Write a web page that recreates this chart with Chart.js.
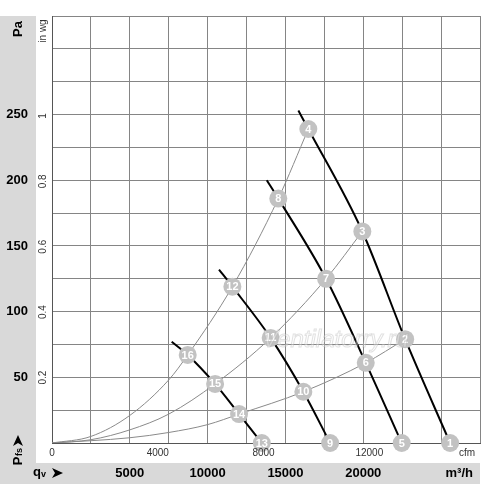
<!DOCTYPE html>
<html>
<head>
<meta charset="utf-8">
<script src="https://cdn.jsdelivr.net/npm/chart.js@4.4.1/dist/chart.umd.min.js"></script>
<style>
  html, body { margin: 0; padding: 0; background: #fff; }
  #wrap { width: 500px; height: 484px; position: relative; }
</style>
</head>
<body>
<div id="wrap"><canvas id="chart"></canvas></div>
<script>
// fan curves: flow in m³/h, static pressure in Pa
const fan1Flow = [15830, 16470, 19940, 22690, 25580];
const fan1Pa   = [253, 239, 161, 79, 0];
const fan2Flow = [13800, 14540, 17610, 20160, 22470];
const fan2Pa   = [200, 186, 125, 61, 0];
const fan3Flow = [10730, 11590, 14050, 16150, 17870];
const fan3Pa   = [132, 119, 80, 39, 0];
const fan4Flow = [7690, 8720, 10480, 12020, 13480];
const fan4Pa   = [77, 67, 45, 22, 0];

// system curves through the operating points
const sysAFlow = [0, 2500, 5000, 7500, 8720, 11590, 14540, 16470];
const sysAPa   = [0, 5, 21, 48, 67, 119, 186, 239];
const sysBFlow = [0, 2500, 5000, 7500, 10480, 14050, 17610, 19940];
const sysBPa   = [0, 2.5, 10, 22, 45, 80, 125, 161];
const sysCFlow = [0, 5000, 7500, 10000, 12020, 16150, 20160, 22690];
const sysCPa   = [0, 4, 8, 14, 22, 39, 61, 79];

// numbered operating points
const markerNames = ['1', '2', '3', '4', '5', '6', '7', '8', '9', '10', '11', '12', '13', '14', '15', '16'];
const markerFlow  = [25580, 22690, 19940, 16470, 22470, 20160, 17610, 14540, 17870, 16150, 14050, 11590, 13480, 12020, 10480, 8720];
const markerPa    = [0, 79, 161, 239, 0, 61, 125, 186, 0, 39, 80, 119, 0, 22, 45, 67];

// axis labels
const paTicks   = [50, 100, 150, 200, 250];
const inwgTicks = [0.2, 0.4, 0.6, 0.8, 1];
const m3hTicks  = [5000, 10000, 15000, 20000];
const cfmTicks  = [0, 4000, 8000, 12000];

const PA_PER_INWG = 249;
const M3H_PER_CFM = 1.699;

const pts = (xs, ys) => xs.map((x, i) => ({ x: x, y: ys[i] }));

const fanStyle = { borderColor: '#000', borderWidth: 2, pointRadius: 0, cubicInterpolationMode: 'monotone', order: 1 };
const sysStyle = { borderColor: '#8a8a8a', borderWidth: 1, pointRadius: 0, cubicInterpolationMode: 'monotone', order: 2 };

function arrowHead(ctx, x, y, dir) {
  // filled arrowhead with notched back, dir: 'right' or 'up'
  ctx.save();
  ctx.translate(x, y);
  if (dir === 'up') ctx.rotate(-Math.PI / 2);
  ctx.beginPath();
  ctx.moveTo(6, 0);
  ctx.lineTo(-5, -5);
  ctx.lineTo(-2, 0);
  ctx.lineTo(-5, 5);
  ctx.closePath();
  ctx.fill();
  ctx.restore();
}

const decor = {
  id: 'decor',
  beforeDraw(chart) {
    const ctx = chart.ctx, a = chart.chartArea;
    ctx.save();
    ctx.fillStyle = '#d9d9d9';
    ctx.fillRect(0, a.top, 36, 463 - a.top);
    ctx.fillRect(0, 463, a.right, 21);
    ctx.restore();
  },
  afterDatasetsDraw(chart) {
    const ctx = chart.ctx;
    const meta = chart.getDatasetMeta(0);
    ctx.save();
    ctx.fillStyle = '#fff';
    ctx.font = 'bold 11px "Liberation Sans", Arial, sans-serif';
    ctx.textAlign = 'center';
    ctx.textBaseline = 'middle';
    meta.data.forEach((p, i) => ctx.fillText(markerNames[i], p.x, p.y + 0.5));

    // faint watermark
    ctx.font = 'italic 24px "Liberation Sans", Arial, sans-serif';
    ctx.textAlign = 'left';
    ctx.lineWidth = 1;
    ctx.strokeStyle = 'rgba(170,170,170,0.35)';
    ctx.fillStyle = 'rgba(255,255,255,0.35)';
    ctx.fillText('Ventilatorry.ru', 262, 340);
    ctx.strokeText('Ventilatorry.ru', 262, 340);
    ctx.restore();
  },
  afterDraw(chart) {
    const ctx = chart.ctx;
    const xs = chart.scales.x, ys = chart.scales.y;
    ctx.save();
    ctx.fillStyle = '#000';

    // Pa labels in the left band
    ctx.font = 'bold 13px "Liberation Sans", Arial, sans-serif';
    ctx.textAlign = 'right';
    ctx.textBaseline = 'middle';
    paTicks.forEach(v => ctx.fillText(String(v), 28, ys.getPixelForValue(v)));

    // m³/h labels in the bottom band
    ctx.textAlign = 'center';
    m3hTicks.forEach(v => ctx.fillText(String(v), xs.getPixelForValue(v), 473));
    ctx.textAlign = 'right';
    ctx.fillText('m³/h', 473, 473);

    // qv arrow
    ctx.textAlign = 'left';
    ctx.fillText('q', 33, 472);
    ctx.font = 'bold 9px "Liberation Sans", Arial, sans-serif';
    ctx.fillText('v', 41, 475);
    arrowHead(ctx, 57, 473, 'right');

    // rotated labels
    const rot = (txt, x, y, font, align) => {
      ctx.save();
      ctx.translate(x, y);
      ctx.rotate(-Math.PI / 2);
      ctx.font = font;
      ctx.textAlign = align;
      ctx.textBaseline = 'middle';
      ctx.fillText(txt, 0, 0);
      ctx.restore();
    };
    rot('Pa', 18, 29, 'bold 13px "Liberation Sans", Arial, sans-serif', 'center');
    rot('P', 18, 461, 'bold 13px "Liberation Sans", Arial, sans-serif', 'center');
    rot('fs', 20, 452, 'bold 9px "Liberation Sans", Arial, sans-serif', 'center');
    arrowHead(ctx, 18, 441, 'up');

    ctx.fillStyle = '#333';
    rot('in wg', 43, 31, '10px "Liberation Sans", Arial, sans-serif', 'center');
    inwgTicks.forEach(v => rot(String(v), 43, ys.getPixelForValue(v * PA_PER_INWG), '10px "Liberation Sans", Arial, sans-serif', 'center'));

    // cfm labels under the plot
    ctx.font = '10px "Liberation Sans", Arial, sans-serif';
    ctx.textAlign = 'center';
    ctx.textBaseline = 'middle';
    cfmTicks.forEach(v => ctx.fillText(String(v), xs.getPixelForValue(v * M3H_PER_CFM), 453));
    ctx.fillText('cfm', 467, 453);
    ctx.restore();
  }
};

new Chart(document.getElementById('chart'), {
  type: 'line',
  data: {
    datasets: [
      { data: pts(markerFlow, markerPa), showLine: false, pointRadius: 9, pointHoverRadius: 9,
        pointBackgroundColor: '#c2c2c2', pointBorderWidth: 0, order: 0, clip: false },
      Object.assign({ data: pts(fan1Flow, fan1Pa) }, fanStyle),
      Object.assign({ data: pts(fan2Flow, fan2Pa) }, fanStyle),
      Object.assign({ data: pts(fan3Flow, fan3Pa) }, fanStyle),
      Object.assign({ data: pts(fan4Flow, fan4Pa) }, fanStyle),
      Object.assign({ data: pts(sysAFlow, sysAPa) }, sysStyle),
      Object.assign({ data: pts(sysBFlow, sysBPa) }, sysStyle),
      Object.assign({ data: pts(sysCFlow, sysCPa) }, sysStyle)
    ]
  },
  options: {
    responsive: true,
    maintainAspectRatio: false,
    animation: false,
    events: [],
    layout: { padding: { top: 16, right: 20, left: 0, bottom: 0 } },
    plugins: { legend: { display: false }, tooltip: { enabled: false } },
    scales: {
      x: {
        type: 'linear', min: 0, max: 27500,
        ticks: { display: false, stepSize: 2500 },
        grid: { color: '#858585', lineWidth: 1, drawTicks: false },
        border: { color: '#555', width: 1 },
        afterFit: s => { s.height = 41; }
      },
      y: {
        type: 'linear', min: 0, max: 325,
        ticks: { display: false, stepSize: 25 },
        grid: { color: '#858585', lineWidth: 1, drawTicks: false },
        border: { color: '#555', width: 1 },
        afterFit: s => { s.width = 52; }
      }
    }
  },
  plugins: [decor]
});
</script>
</body>
</html>
